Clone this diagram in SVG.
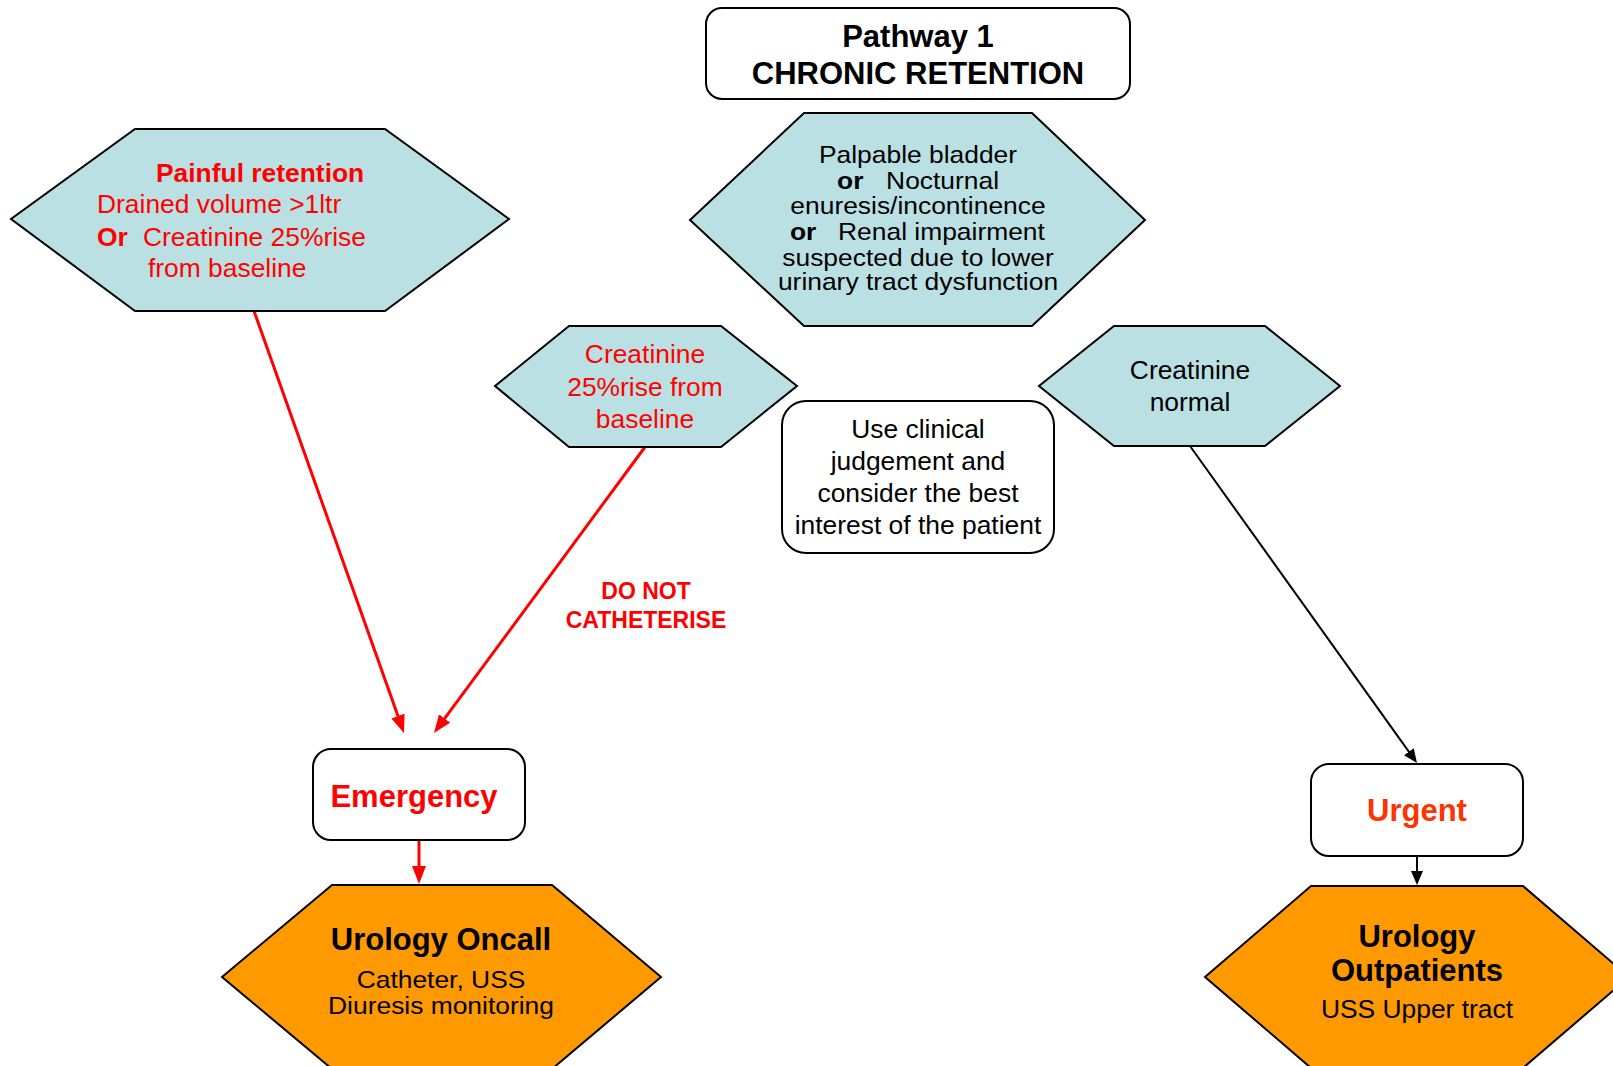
<svg xmlns="http://www.w3.org/2000/svg" width="1613" height="1066" viewBox="0 0 1613 1066">
<style>
text{font-family:"Liberation Sans",Arial,sans-serif;}
.hex{fill:#BAE0E3;stroke:#000;stroke-width:2;}
.org{fill:#FF9900;stroke:#000;stroke-width:2;}
.box{fill:#fff;stroke:#000;stroke-width:2;}
.t{font-size:26.4px;fill:#000;}
.s{font-size:24px;fill:#000;}
.r{fill:#FF0000;}
.b{font-weight:bold;}
.c{text-anchor:middle;}
.big{font-size:31px;font-weight:bold;}
</style>
<defs>
<marker id="ar" markerUnits="userSpaceOnUse" markerWidth="18" markerHeight="14" refX="4" refY="7" orient="auto"><path d="M0,0 L18,7 L0,14 z" fill="#FF0000"/></marker>
<marker id="ab" markerUnits="userSpaceOnUse" markerWidth="14" markerHeight="12" refX="3" refY="6" orient="auto"><path d="M0,0 L14,6 L0,12 z" fill="#000"/></marker>
</defs>
<g id="connectors">
<line x1="254" y1="311" x2="399.3" y2="719.8" stroke="#FF0000" stroke-width="3" marker-end="url(#ar)"/>
<line x1="645" y1="447" x2="442.3" y2="721.7" stroke="#FF0000" stroke-width="3" marker-end="url(#ar)"/>
<line x1="419" y1="840" x2="419" y2="870" stroke="#FF0000" stroke-width="3" marker-end="url(#ar)"/>
<line x1="1190" y1="446" x2="1410.6" y2="754.1" stroke="#000" stroke-width="2" marker-end="url(#ab)"/>
<line x1="1417" y1="856" x2="1417" y2="874" stroke="#000" stroke-width="2" marker-end="url(#ab)"/>
</g>
<g id="title">
<rect class="box" x="706" y="8" width="424" height="91" rx="16"/>
<text class="big c" x="918" y="47">Pathway 1</text>
<text class="big c" x="918" y="84">CHRONIC RETENTION</text>
</g>
<g id="painful">
<polygon class="hex" points="135,129 385,129 509,219 385,311 135,311 11,219"/>
<text class="t r b" x="156" y="182">Painful retention</text>
<text class="t r" x="97" y="213">Drained volume &gt;1ltr</text>
<text class="t r" y="246"><tspan class="b" x="97">Or</tspan><tspan x="143">Creatinine 25%rise</tspan></text>
<text class="t r" x="148" y="277">from baseline</text>
</g>
<g id="palpable">
<polygon class="hex" points="804,113 1032,113 1145,220 1032,326 804,326 690,220"/>
<g transform="translate(918,0) scale(1.1,1)">
<text class="s c" x="0" y="163">Palpable bladder</text>
<text class="s" y="189"><tspan class="b" x="-73.6">or</tspan><tspan x="-29">Nocturnal</tspan></text>
<text class="s c" x="0" y="214">enuresis/incontinence</text>
<text class="s" y="240"><tspan class="b" x="-116.4">or</tspan><tspan x="-72.7">Renal impairment</tspan></text>
<text class="s c" x="0" y="266">suspected due to lower</text>
<text class="s c" x="0" y="290">urinary tract dysfunction</text>
</g>
</g>
<g id="creat-rise">
<polygon class="hex" points="569,326 721,326 797,386 721,447 569,447 495,386"/>
<text class="t r c" x="645" y="363">Creatinine</text>
<text class="t r c" x="645" y="396">25%rise from</text>
<text class="t r c" x="645" y="428">baseline</text>
</g>
<g id="creat-normal">
<polygon class="hex" points="1114,326 1265,326 1340,386 1265,446 1114,446 1039,386"/>
<text class="t c" x="1190" y="379">Creatinine</text>
<text class="t c" x="1190" y="411">normal</text>
</g>
<g id="judgement">
<rect class="box" x="782" y="401" width="272" height="152" rx="24"/>
<text class="t c" x="918" y="438">Use clinical</text>
<text class="t c" x="918" y="470">judgement and</text>
<text class="t c" x="918" y="502">consider the best</text>
<text class="t c" x="918" y="534">interest of the patient</text>
</g>
<g id="do-not">
<text class="r b c" style="font-size:23px" x="646" y="599">DO NOT</text>
<text class="r b c" style="font-size:23px" x="646" y="628">CATHETERISE</text>
</g>
<g id="emergency">
<rect class="box" x="313" y="749" width="212" height="91" rx="18"/>
<text class="big c r" x="414" y="807">Emergency</text>
</g>
<g id="oncall">
<polygon class="org" points="332,885 552,885 661,977 552,1069 332,1069 222,977"/>
<text class="big c" x="441" y="950">Urology Oncall</text>
<g transform="translate(441,0) scale(1.1,1)">
<text class="s c" x="0" y="988">Catheter, USS</text>
<text class="s c" x="0" y="1014">Diuresis monitoring</text>
</g>
</g>
<g id="urgent">
<rect class="box" x="1311" y="764" width="212" height="92" rx="18"/>
<text class="big c" style="fill:#FF3300" x="1417" y="821">Urgent</text>
</g>
<g id="outpatients">
<polygon class="org" points="1311,886 1523,886 1629,977 1523,1068 1311,1068 1205,977"/>
<text class="big c" x="1417" y="947">Urology</text>
<text class="big c" x="1417" y="981">Outpatients</text>
<text class="t c" x="1417" y="1018">USS Upper tract</text>
</g>
</svg>
